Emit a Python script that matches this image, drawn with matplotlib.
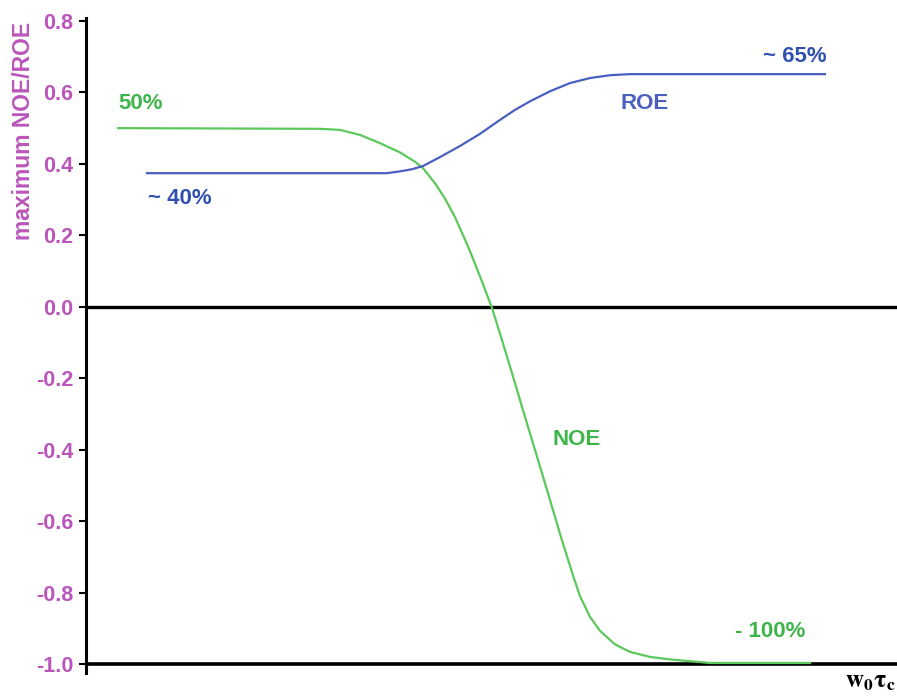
import matplotlib
matplotlib.use("Agg")
import matplotlib.pyplot as plt

plt.rcParams['font.family'] = ['Liberation Sans', 'DejaVu Sans']
plt.rcParams['mathtext.fontset'] = 'stix'

# values (x in arbitrary w0*tau_c units)
noe_x = [0.32, 2.34, 2.54, 2.74, 2.94, 3.14, 3.29, 3.37, 3.49, 3.59, 3.69, 3.77,
         3.84, 3.95, 4.06, 4.16, 4.26, 4.37, 4.49, 4.62, 4.75, 4.87, 4.94, 5.04,
         5.14, 5.29, 5.44, 5.64, 5.84, 6.04, 6.24, 7.24]
noe_y = [0.499, 0.497, 0.494, 0.480, 0.457, 0.431, 0.405, 0.387, 0.345, 0.302, 0.250, 0.200,
         0.155, 0.077, -0.004, -0.094, -0.186, -0.290, -0.401, -0.522, -0.645, -0.752, -0.810, -0.868,
         -0.907, -0.945, -0.966, -0.980, -0.987, -0.992, -0.997, -0.997]

roe_x = [0.61, 3.01, 3.14, 3.26, 3.37, 3.54, 3.74, 3.94, 4.14, 4.29, 4.44, 4.64,
         4.84, 5.04, 5.24, 5.44, 7.39]
roe_y = [0.373, 0.373, 0.378, 0.384, 0.393, 0.418, 0.449, 0.483, 0.522, 0.550, 0.574, 0.602,
         0.625, 0.639, 0.647, 0.650, 0.650]

y_ticks = [-1.0, -0.8, -0.6, -0.4, -0.2, 0.0, 0.2, 0.4, 0.6, 0.8]
y_tick_labels = ["-1.0", "-0.8", "-0.6", "-0.4", "-0.2", "0.0", "0.2", "0.4", "0.6", "0.8"]

magenta = "#bb55bb"
green_line = "#5cc85c"
green_text = "#3db54a"
blue_line = "#4a5fc0"
blue_text = "#3050b0"

fig = plt.figure(figsize=(8.97, 6.96), dpi=100)
ax = fig.add_axes([86 / 897, 1 - 673 / 696, 1 - 86 / 897, (673 - 18) / 696])

ax.plot(noe_x, noe_y, color=green_line, lw=1.6, zorder=3, solid_joinstyle="round")
ax.plot(roe_x, roe_y, color=blue_line, lw=1.6, zorder=3, solid_joinstyle="round")

# zero line and bottom line
ax.axhline(0.0, color="black", lw=2.4, zorder=2)
ax.axhline(-1.0, color="black", lw=2.6, zorder=2)

ax.set_xlim(0, 8.11)
ax.set_ylim(-1.025, 0.807)

for s in ["top", "right", "bottom"]:
    ax.spines[s].set_visible(False)
ax.spines["left"].set_linewidth(2.2)

ax.set_xticks([])
ax.set_yticks(y_ticks)
ax.set_yticklabels(y_tick_labels, color=magenta, fontsize=15.5, fontweight="bold")
ax.tick_params(axis="y", length=5, width=1.5, pad=4)

ax.set_ylabel("maximum NOE/ROE", color=magenta, fontsize=16.5, fontweight="bold")
ax.yaxis.set_label_coords(-0.063, 0.827)

# curve annotations
ax.text(0.32, 0.569, "50%", color=green_text, fontsize=16, fontweight="bold", va="center")
ax.text(0.62, 0.303, "~ 40%", color=blue_text, fontsize=16, fontweight="bold", va="center")
ax.text(5.34, 0.569, "ROE", color=blue_line, fontsize=16, fontweight="bold", va="center")
ax.text(7.41, 0.698, "~ 65%", color=blue_text, fontsize=16, fontweight="bold", va="center", ha="right")
ax.text(4.66, -0.373, "NOE", color=green_text, fontsize=16, fontweight="bold", va="center")
ax.text(6.49, -0.910, "- 100%", color=green_text, fontsize=16, fontweight="bold", va="center")

fig.text(0.998, 0.004, r"$\mathbf{w_0\tau_c}$", fontsize=18, ha="right", va="bottom")

fig.savefig("out.png", dpi=100)
